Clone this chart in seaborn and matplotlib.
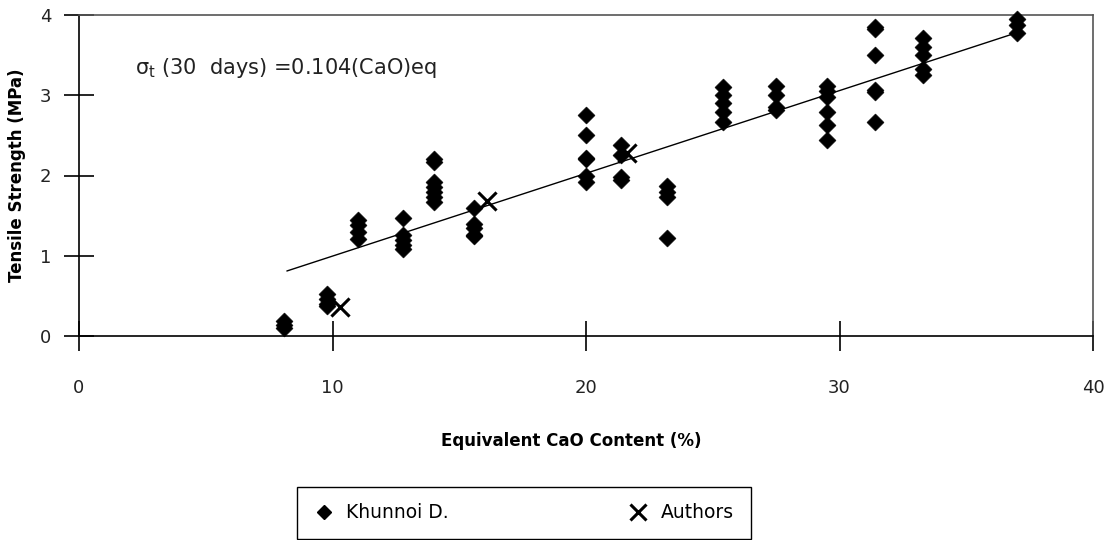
import pandas as pd
import matplotlib.pyplot as plt
import seaborn as sns
from matplotlib.lines import Line2D

# %% data
khunnoi_cao = [8.1, 9.8, 11.0, 12.8, 14.0, 15.6, 20.0, 21.4, 23.2,
               25.4, 27.5, 29.5, 31.4, 33.3, 37.0]
khunnoi_strength = [
    [0.19, 0.14, 0.10],
    [0.52, 0.46, 0.40, 0.38],
    [1.45, 1.38, 1.30, 1.21],
    [1.47, 1.26, 1.20, 1.13, 1.08],
    [2.20, 2.17, 1.92, 1.86, 1.80, 1.73, 1.67],
    [1.60, 1.40, 1.35, 1.26, 1.24],
    [2.75, 2.50, 2.22, 2.20, 2.00, 1.92],
    [2.38, 2.25, 1.98, 1.94],
    [1.87, 1.80, 1.73, 1.22],
    [3.10, 3.00, 2.90, 2.79, 2.67],
    [3.12, 3.00, 2.85, 2.82],
    [3.11, 3.05, 2.98, 2.79, 2.63, 2.44],
    [3.85, 3.83, 3.50, 3.06, 3.04, 2.67],
    [3.71, 3.60, 3.50, 3.33, 3.25],
    [3.95, 3.87, 3.77],
]

authors_cao = [10.3, 16.1, 21.6]
authors_strength = [0.36, 1.68, 2.28]

trend_cao = [8.2, 37.0]
trend_strength = [0.81, 3.78]

# %% tabela longa pro seaborn
khunnoi = pd.DataFrame({
    'cao': [c for c, vals in zip(khunnoi_cao, khunnoi_strength) for _ in vals],
    'strength': [v for vals in khunnoi_strength for v in vals],
})
authors = pd.DataFrame({'cao': authors_cao, 'strength': authors_strength})
trend = pd.DataFrame({'cao': trend_cao, 'strength': trend_strength})

# %%
sns.set_style('white')
plt.rcParams['font.family'] = ['DejaVu Sans']
plt.rcParams['text.color'] = 'black'
plt.rcParams['axes.labelcolor'] = 'black'

fig = plt.figure(figsize=(11.15, 5.4), dpi=100)
ax = fig.add_axes([79 / 1115, 1 - 336 / 540, (1093 - 79) / 1115, (336 - 15) / 540])

sns.lineplot(data=trend, x='cao', y='strength', color='black', linewidth=1, ax=ax)
sns.scatterplot(data=khunnoi, x='cao', y='strength', marker='D', s=75,
                color='black', edgecolor='black', linewidth=0.4,
                legend=False, clip_on=False, zorder=3, ax=ax)
sns.scatterplot(data=authors, x='cao', y='strength', marker='x', s=170,
                color='black', linewidth=2.2, legend=False, clip_on=False,
                zorder=4, ax=ax)

ax.set_xlim(0, 40)
ax.set_ylim(0, 4)
ax.set_xticks([0, 10, 20, 30, 40])
ax.set_yticks([0, 1, 2, 3, 4])

for side in ['left', 'bottom']:
    ax.spines[side].set_color('black')
    ax.spines[side].set_linewidth(1.2)
for side in ['top', 'right']:
    ax.spines[side].set_color('#555555')
    ax.spines[side].set_linewidth(1.2)

ax.tick_params(axis='both', direction='inout', length=22, width=1.2,
               colors='black', labelsize=13, bottom=True, left=True)
ax.tick_params(axis='x', pad=20, labelcolor='#222222')
ax.tick_params(axis='y', pad=9, labelcolor='#222222')

ax.set_xlabel('Equivalent CaO Content (%)', fontsize=12, fontweight='bold')
ax.set_ylabel('Tensile Strength (MPa)', fontsize=12, fontweight='bold')
ax.xaxis.set_label_coords(0.485, -0.30)
ax.yaxis.set_label_coords(-0.052, 0.5)

ax.text(2.2, 3.34, r'$\mathregular{\sigma_t}$ (30  days) =0.104(CaO)eq',
        fontsize=15, va='center', ha='left', color='#222222')

handles = [
    Line2D([], [], marker='D', color='black', linestyle='none', markersize=7),
    Line2D([], [], marker='x', color='black', linestyle='none', markersize=12,
           markeredgewidth=2.2),
]
fig.legend(handles, ['Khunnoi D.', 'Authors'], loc='center',
           bbox_to_anchor=(524 / 1115, 1 - 513 / 540), ncol=2,
           fancybox=False, edgecolor='black', framealpha=1,
           fontsize=13.5, handlelength=1.0, columnspacing=9.6,
           borderpad=0.9, handletextpad=0.7)

fig.savefig('out.png', dpi=100)
